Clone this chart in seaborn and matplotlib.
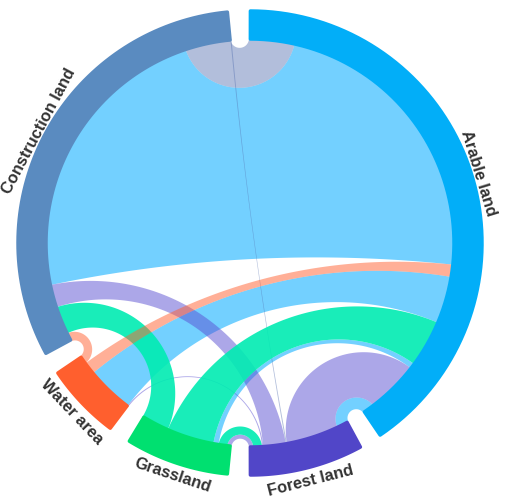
import numpy as np
import matplotlib.pyplot as plt
from matplotlib.patches import Polygon
import seaborn as sns

sns.set_theme(style="white")
plt.rcParams['font.family'] = ['Liberation Sans', 'DejaVu Sans']

# Land-use transfer flows (chord diagram)
nodes = ["Arable land", "Forest land", "Grassland", "Water area", "Construction land"]
node_colors = ["#02aef8", "#5146c8", "#00e070", "#ff5f2e", "#5a8bc0"]
link_colors = ["#00aaff", "#5a50d2", "#00ecb2", "#ff6030", "#5470b0"]   # by source node
link_alpha = [0.55, 0.5, 0.9, 0.5, 0.45]

link_source = ["Construction land", "Arable land", "Water area", "Arable land", "Grassland",
               "Arable land", "Forest land", "Arable land", "Forest land", "Construction land",
               "Forest land", "Grassland", "Forest land", "Grassland", "Water area"]
link_target = ["Arable land", "Construction land", "Arable land", "Water area", "Arable land",
               "Grassland", "Arable land", "Forest land", "Construction land", "Forest land",
               "Water area", "Forest land", "Grassland", "Construction land", "Construction land"]
link_value = [13.0, 84.0, 3.5, 13.5, 13.5, 1.5, 15.0, 3.5, 6.5, 0.3, 0.3, 2.5, 1.2, 8.0, 2.5]

# order of the link ends along each node, clockwise (link indices)
end_order = {
    "Arable land": [0, 1, 2, 3, 4, 5, 6, 7],
    "Forest land": [7, 6, 9, 8, 10, 11, 12],
    "Grassland": [12, 11, 5, 4, 13],
    "Water area": [10, 3, 2, 14],
    "Construction land": [14, 13, 8, 1, 0, 9],
}

# layout
cx, cy = 250.0, 256.0
r_out, r_in = 232.0, 204.0
r_link = r_in + 0.5
gap = 4.9
start_angle = 90.3


def pt(a, r):
    t = np.deg2rad(a)
    return np.array([cx + r * np.cos(t), cy + r * np.sin(t)])


def arc(a1, a2, r, n=80):
    t = np.deg2rad(np.linspace(a1, a2, n))
    return np.column_stack([cx + r * np.cos(t), cy + r * np.sin(t)])


def geodesic(a1, a2, r, n=80):
    """Circle arc orthogonal to the main circle joining two angles."""
    p1, p2 = pt(a1, r), pt(a2, r)
    d = (a2 - a1 + 180.0) % 360.0 - 180.0
    half = abs(d) / 2.0
    if half < 1e-6 or half > 89.7:
        return np.vstack([p1, p2])
    mid = np.deg2rad(a1 + d / 2.0)
    dist = r / np.cos(np.deg2rad(half))
    rho = r * np.tan(np.deg2rad(half))
    o = np.array([cx + dist * np.cos(mid), cy + dist * np.sin(mid)])
    f1 = np.arctan2(p1[1] - o[1], p1[0] - o[0])
    f2 = np.arctan2(p2[1] - o[1], p2[0] - o[0])
    df = (f2 - f1 + np.pi) % (2 * np.pi) - np.pi
    f = f1 + np.linspace(0, 1, n) * df
    return np.column_stack([o[0] + rho * np.cos(f), o[1] + rho * np.sin(f)])


# node totals and angular spans
totals = {n: sum(link_value[k] for k in end_order[n]) for n in nodes}
scale = (360.0 - gap * len(nodes)) / sum(totals.values())

node_span = {}
link_ends = {}  # (link index, node) -> (a_start, a_end)
a = start_angle
for n in nodes:
    a0 = a
    for k in end_order[n]:
        w = link_value[k] * scale
        link_ends[(k, n)] = (a, a - w)
        a -= w
    node_span[n] = (a0, a)
    a -= gap

fig = plt.figure(figsize=(5.05, 4.99), dpi=100)
ax = fig.add_axes([0, 0, 1, 1])
ax.set_xlim(0, 505)
ax.set_ylim(0, 499)
ax.set_aspect('equal')
ax.axis('off')

# ribbons, drawn grouped by source node
draw_order = ["Arable land", "Construction land", "Forest land", "Grassland", "Water area"]
for src in draw_order:
    i = nodes.index(src)
    for k in range(len(link_value)):
        if link_source[k] != src:
            continue
        s1, s2 = link_ends[(k, link_source[k])]
        t1, t2 = link_ends[(k, link_target[k])]
        path = np.vstack([
            arc(s1, s2, r_link),
            geodesic(s2, t1, r_link),
            arc(t1, t2, r_link),
            geodesic(t2, s1, r_link),
        ])
        ax.add_patch(Polygon(path, closed=True, facecolor=link_colors[i],
                             alpha=link_alpha[i], edgecolor='none', zorder=2))

# node arcs and labels
for i, n in enumerate(nodes):
    a0, a1 = node_span[n]
    poly = np.vstack([arc(a0 - 0.4, a1 + 0.4, r_out), arc(a1 + 0.4, a0 - 0.4, r_in)])
    ax.add_patch(Polygon(poly, closed=True, facecolor=node_colors[i],
                         edgecolor=node_colors[i], linewidth=2.5,
                         joinstyle='round', zorder=3))
    mid = (a0 + a1) / 2.0
    upper = np.sin(np.deg2rad(mid)) > 0
    p = pt(mid, 239 if upper else 245.5)
    rot = mid - 90 if upper else mid + 90
    ax.text(p[0], p[1], n, rotation=rot, rotation_mode='anchor',
            ha='center', va='center', fontsize=11.8, fontweight='bold',
            color='#333333', zorder=4)

fig.savefig("out.png", dpi=100)
